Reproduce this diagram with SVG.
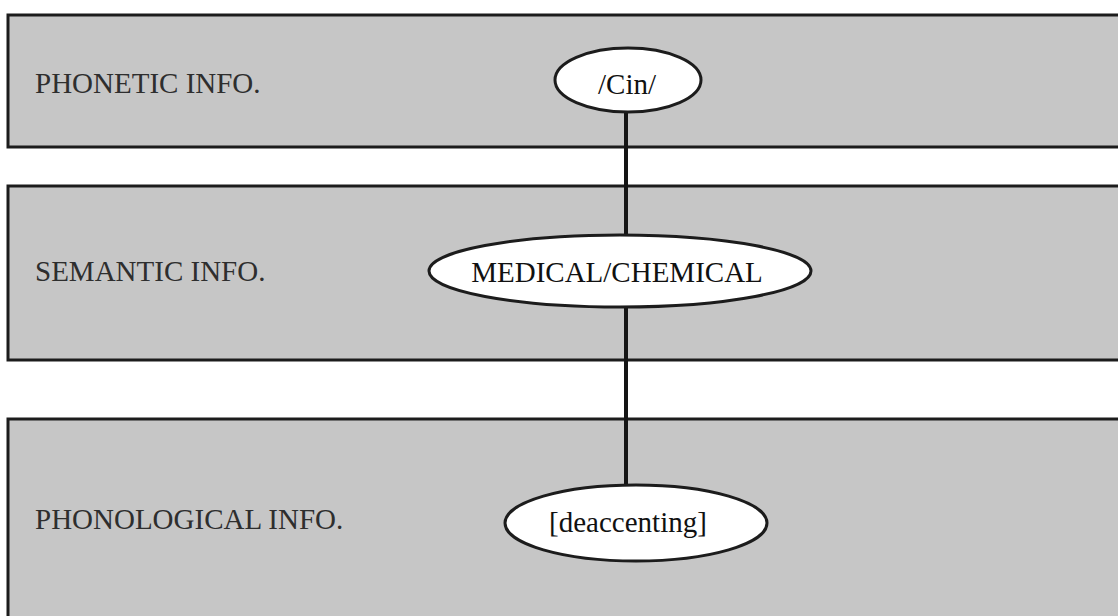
<svg xmlns="http://www.w3.org/2000/svg" width="1118" height="616" viewBox="0 0 1118 616">
  <style>
    .band { fill: #c6c6c6; stroke: #1c1c1c; stroke-width: 3; }
    .node { fill: #ffffff; stroke: #1c1c1c; stroke-width: 3; }
    .label { font-family: 'Liberation Serif', 'Times New Roman', serif; font-size: 29px; fill: #2e2e2e; }
    .term { font-family: 'Liberation Serif', 'Times New Roman', serif; font-size: 29px; fill: #111111; text-anchor: middle; }
    .link { stroke: #151515; stroke-width: 4; fill: none; }
  </style>
  <rect width="1118" height="616" fill="#ffffff"/>

  <!-- information tiers -->
  <g id="tier-phonetic">
    <rect class="band" x="8" y="15" width="1120" height="132"/>
    <text class="label" x="35" y="93">PHONETIC INFO.</text>
  </g>
  <g id="tier-semantic">
    <rect class="band" x="8" y="186" width="1120" height="174"/>
    <text class="label" x="35" y="281">SEMANTIC INFO.</text>
  </g>
  <g id="tier-phonological">
    <rect class="band" x="8" y="419" width="1120" height="210"/>
    <text class="label" x="35" y="529">PHONOLOGICAL INFO.</text>
  </g>

  <!-- vertical links between tier entries -->
  <g id="connectors">
    <line class="link" x1="626" y1="112" x2="626" y2="235"/>
    <line class="link" x1="626" y1="307" x2="626" y2="485"/>
  </g>

  <g id="node-cin">
    <ellipse class="node" cx="628" cy="80" rx="73" ry="32"/>
    <text class="term" x="627" y="94">/Cin/</text>
  </g>
  <g id="node-medical-chemical">
    <ellipse class="node" cx="620" cy="271" rx="191" ry="36"/>
    <text class="term" x="617" y="282">MEDICAL/CHEMICAL</text>
  </g>
  <g id="node-deaccenting">
    <ellipse class="node" cx="636" cy="523" rx="131" ry="38"/>
    <text class="term" x="628" y="532">[deaccenting]</text>
  </g>
</svg>
